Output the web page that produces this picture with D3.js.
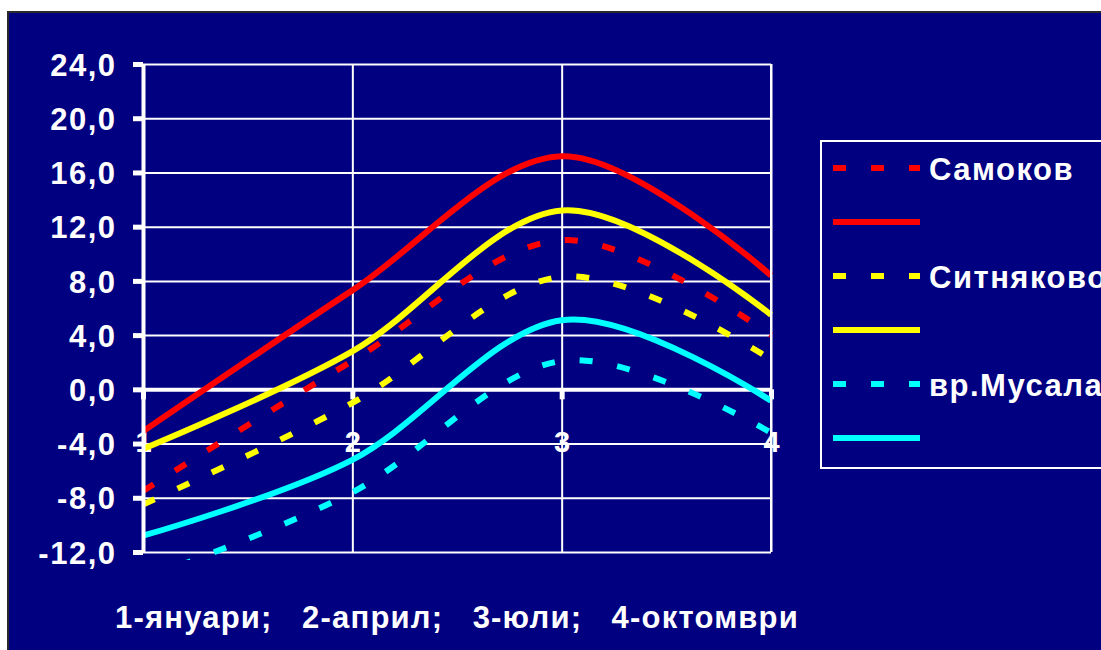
<!DOCTYPE html>
<html>
<head>
<meta charset="utf-8">
<script src="https://cdn.jsdelivr.net/npm/d3@7"></script>
<style>
  html, body { margin: 0; padding: 0; background: #fff; }
  svg { display: block; }
  text { font-family: "Liberation Sans", Arial, sans-serif; font-weight: bold; fill: #fff; letter-spacing: 1.5px; }
</style>
</head>
<body>
<svg id="chart" width="1101" height="650"></svg>
<script>
// Categories (seasons) along the x axis
const categories = [1, 2, 3, 4];
const xTickLabels = ["1", "2", "3", "4"];
const yTicks = [-12, -8, -4, 0, 4, 8, 12, 16, 20, 24];
const xTitle = "1-януари;   2-април;   3-юли;   4-октомври";

// Temperature values, °C
const samokovDashed   = [-7.5, 2.1, 11.0, 4.0];
const samokovSolid    = [-3.1, 7.3, 17.2, 8.4];
const sitnyakovoDashed = [-8.5, -1.0, 8.3, 2.2];
const sitnyakovoSolid  = [-4.4, 2.8, 13.2, 5.5];
const musalaDashed    = [-14.0, -7.6, 2.1, -3.2];
const musalaSolid     = [-10.8, -5.2, 5.1, -0.85];

const seriesNames  = ["Самоков", "", "Ситняково", "", "вр.Мусала", ""];
const seriesColors = ["#ff0000", "#ff0000", "#ffff00", "#ffff00", "#00ffff", "#00ffff"];
const seriesDashed = [true, false, true, false, true, false];
const seriesValues = [samokovDashed, samokovSolid, sitnyakovoDashed, sitnyakovoSolid, musalaDashed, musalaSolid];

const svg = d3.select("#chart");
const FONT = 31;

// Chart background panel
svg.append("rect")
  .attr("x", 8).attr("y", 12)
  .attr("width", 1110).attr("height", 660)
  .attr("fill", "#000080")
  .attr("stroke", "#2a2a2a").attr("stroke-width", 2);

const plot = { left: 143, right: 771, top: 64, bottom: 552 };

const x = d3.scaleLinear().domain([1, 4]).range([plot.left, plot.right]);
const y = d3.scaleLinear().domain([-12, 24]).range([plot.bottom, plot.top]);

// Horizontal gridlines
svg.append("g")
  .attr("transform", `translate(${plot.left},0)`)
  .call(d3.axisLeft(y).tickValues(yTicks).tickSize(-(plot.right - plot.left)).tickFormat(""))
  .call(g => g.select(".domain").remove())
  .call(g => g.selectAll("line").attr("stroke", "#fff").attr("stroke-width", 2));

// Vertical gridlines
svg.append("g")
  .attr("transform", `translate(0,${plot.top})`)
  .call(d3.axisTop(x).tickValues(categories.slice(1)).tickSize(-(plot.bottom - plot.top)).tickFormat(""))
  .call(g => g.select(".domain").remove())
  .call(g => g.selectAll("line").attr("stroke", "#fff").attr("stroke-width", 2));

// Category axis at zero
const xAxis = svg.append("g")
  .attr("transform", `translate(0,${y(0)})`)
  .call(d3.axisBottom(x).tickValues(categories).tickSize(10).tickSizeOuter(0).tickPadding(32)
    .tickFormat((d, i) => xTickLabels[i]));
xAxis.select(".domain").attr("stroke", "#fff").attr("stroke-width", 4);
xAxis.selectAll("line").attr("stroke", "#fff").attr("stroke-width", 5);
xAxis.selectAll("text").attr("font-size", FONT - 2).attr("fill", "#fff").style("letter-spacing", "0px");

// Data lines
svg.append("clipPath").attr("id", "plotClip")
  .append("rect").attr("x", plot.left - 4).attr("y", 0)
  .attr("width", plot.right - plot.left + 8).attr("height", 560);

const line = d3.line()
  .x((d, i) => x(categories[i]))
  .y(d => y(d))
  .curve(d3.curveCardinal.tension(0));

const lines = svg.append("g").attr("clip-path", "url(#plotClip)");
seriesValues.forEach((vals, s) => {
  lines.append("path")
    .datum(vals)
    .attr("d", line)
    .attr("fill", "none")
    .attr("stroke", seriesColors[s])
    .attr("stroke-width", 6)
    .attr("stroke-linejoin", "round")
    .attr("stroke-dasharray", seriesDashed[s] ? "13 25" : null);
});

// Value axis
const yAxis = svg.append("g")
  .attr("transform", `translate(${plot.left},0)`)
  .call(d3.axisLeft(y).tickValues(yTicks).tickSize(10).tickSizeOuter(0).tickPadding(16.5)
    .tickFormat(d => d.toFixed(1).replace(".", ",")));
yAxis.select(".domain").attr("stroke", "#fff").attr("stroke-width", 4);
yAxis.selectAll("line").attr("stroke", "#fff").attr("stroke-width", 5);
yAxis.selectAll("text").attr("font-size", FONT).attr("fill", "#fff").attr("dy", "0.36em");

// Right border of the plot area
svg.append("line")
  .attr("x1", plot.right).attr("x2", plot.right)
  .attr("y1", plot.top).attr("y2", plot.bottom)
  .attr("stroke", "#fff").attr("stroke-width", 2);

// Axis title
svg.append("text")
  .attr("x", (plot.left + plot.right) / 2)
  .attr("y", 628)
  .attr("text-anchor", "middle")
  .attr("font-size", FONT)
  .style("white-space", "pre")
  .style("letter-spacing", "1.2px")
  .text(xTitle);

// Legend
const legend = svg.append("g");
legend.append("rect")
  .attr("x", 821).attr("y", 141)
  .attr("width", 320).attr("height", 327)
  .attr("fill", "none").attr("stroke", "#fff").attr("stroke-width", 2);

seriesNames.forEach((name, i) => {
  const ly = 168 + i * 54;
  legend.append("line")
    .attr("x1", 833).attr("x2", 920)
    .attr("y1", ly).attr("y2", ly)
    .attr("stroke", seriesColors[i])
    .attr("stroke-width", 6)
    .attr("stroke-dasharray", seriesDashed[i] ? "13 25" : null);
  if (name) {
    legend.append("text")
      .attr("x", 929).attr("y", ly)
      .attr("dy", "0.38em")
      .attr("font-size", FONT)
      .text(name);
  }
});
</script>
</body>
</html>
